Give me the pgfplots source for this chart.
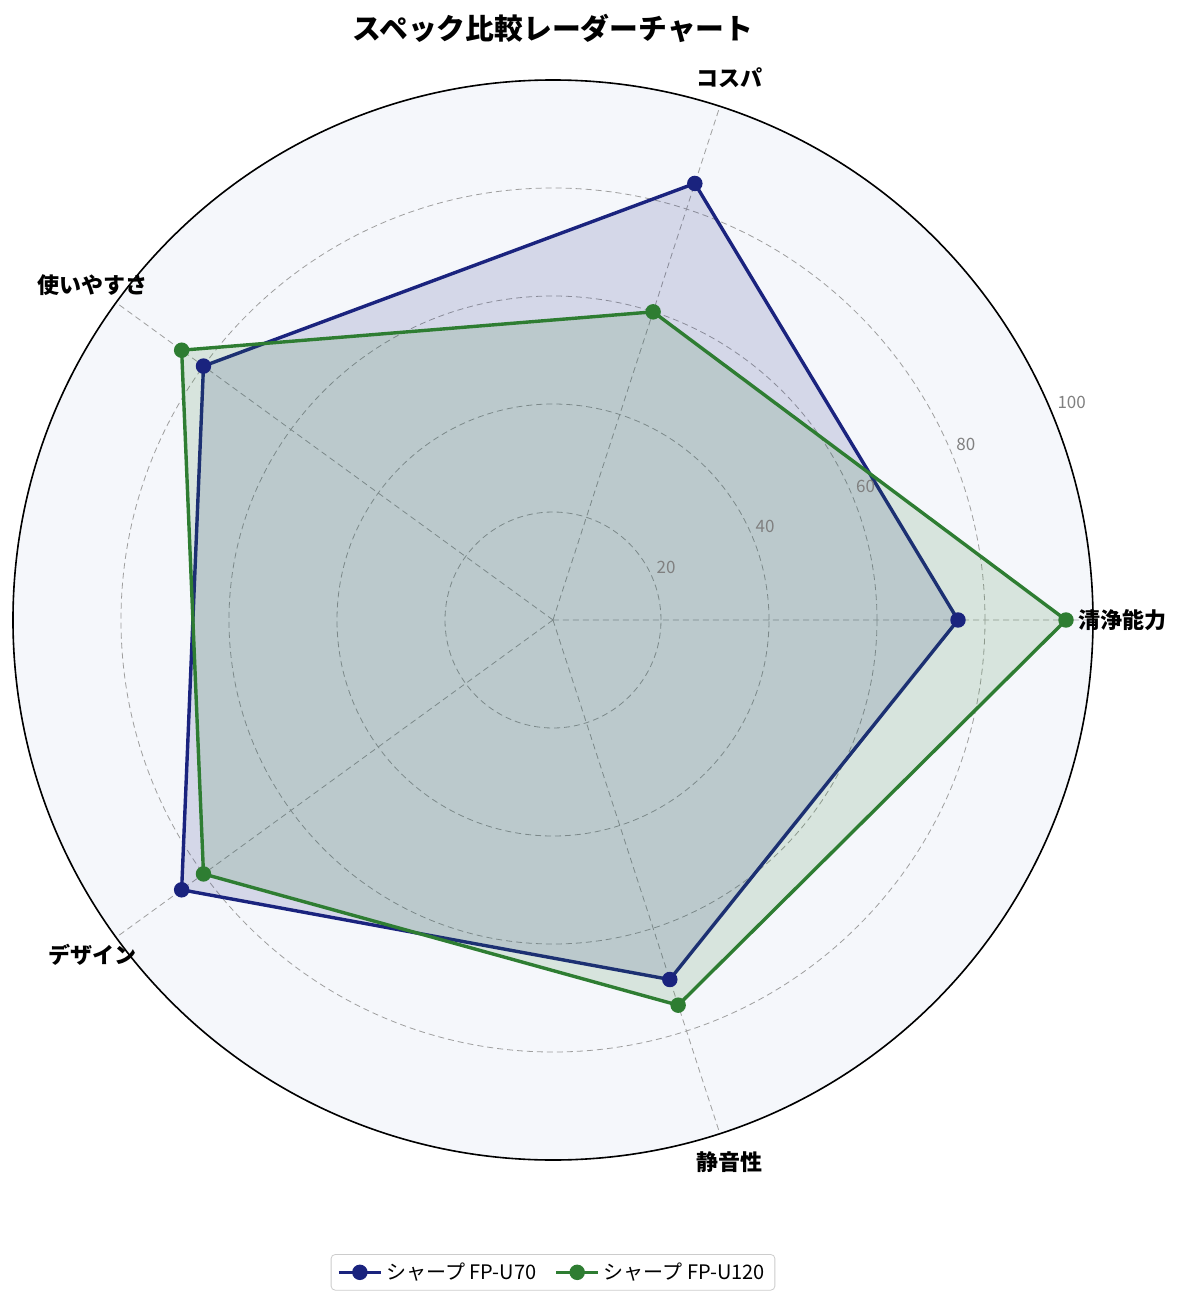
\documentclass[border=0pt]{standalone}
\usepackage{pgfplots}
\pgfplotsset{compat=1.18}
\usepgfplotslibrary{polar}
\usepackage{fontspec}
\setmainfont{Noto Sans CJK JP}

\definecolor{navy}{HTML}{1A237E}
\definecolor{leaf}{HTML}{2E7D32}
\definecolor{bgpolar}{HTML}{F5F7FB}
\definecolor{gridgray}{HTML}{9E9E9E}
\definecolor{ticktext}{HTML}{808080}

\tikzset{cat/.style={font=\fontsize{11pt}{13pt}\selectfont\bfseries},
         rtick/.style={font=\fontsize{8.5pt}{10pt}\selectfont, text=ticktext}}

\begin{document}
\begin{tikzpicture}
\useasboundingbox (-276.5pt,-342pt) rectangle (316pt,310pt);
\begin{polaraxis}[
    at={(0,0)}, anchor=center,
    width=540pt, height=540pt, scale only axis,
    ymin=0, ymax=100,
    xtick={0,72,144,216,288}, xticklabels={},
    ytick={20,40,60,80,100}, yticklabels={},
    major tick length=0pt,
    grid=major,
    major grid style={densely dashed, gridgray, line width=0.4pt},
    axis background/.style={fill=bgpolar},
    separate axis lines,
    x axis line style={black, line width=0.8pt},
    y axis line style={draw=none},
    clip=false,
    legend columns=2,
    legend image code/.code={\draw[mark repeat=2,mark phase=2]
        plot coordinates {(0cm,0cm) (0.37cm,0cm) (0.74cm,0cm)};},
    legend style={at={(0.5,-0.104)}, anchor=center, draw=black!20,
        rounded corners=2pt, font=\fontsize{10pt}{12pt}\selectfont,
        /tikz/every even column/.append style={column sep=7pt}},
]
% FP-U70
\addplot[draw=none, fill=navy, fill opacity=0.15, forget plot]
    coordinates {(0,75) (72,85) (144,80) (216,85) (288,70)} --cycle;
\addplot[navy, line width=1.7pt, mark=*, mark size=3pt, mark options={solid}]
    coordinates {(0,75) (72,85) (144,80) (216,85) (288,70)} --cycle;
\addlegendentry{シャープ FP-U70}
% FP-U120
\addplot[draw=none, fill=leaf, fill opacity=0.15, forget plot]
    coordinates {(0,95) (72,60) (144,85) (216,80) (288,75)} --cycle;
\addplot[leaf, line width=1.7pt, mark=*, mark size=3pt, mark options={solid}]
    coordinates {(0,95) (72,60) (144,85) (216,80) (288,75)} --cycle;
\addlegendentry{シャープ FP-U120}

% category labels
\node[cat] at (axis cs:0,105.5) {清浄能力};
\node[cat] at (axis cs:72,105.5) {コスパ};
\node[cat] at (axis cs:144,105.5) {使いやすさ};
\node[cat] at (axis cs:216,105.5) {デザイン};
\node[cat] at (axis cs:288,105.5) {静音性};
% radial tick labels
\node[rtick] at (axis cs:25,23.1) {20};
\node[rtick] at (axis cs:23.7,42.9) {40};
\node[rtick] at (axis cs:23.2,63) {60};
\node[rtick] at (axis cs:23.1,83.1) {80};
\node[rtick] at (axis cs:22.8,104.2) {100};
% title
\node[font=\fontsize{14.4pt}{16pt}\selectfont\bfseries] at (axis cs:90,109.6) {スペック比較レーダーチャート};
\end{polaraxis}
\end{tikzpicture}
\end{document}
